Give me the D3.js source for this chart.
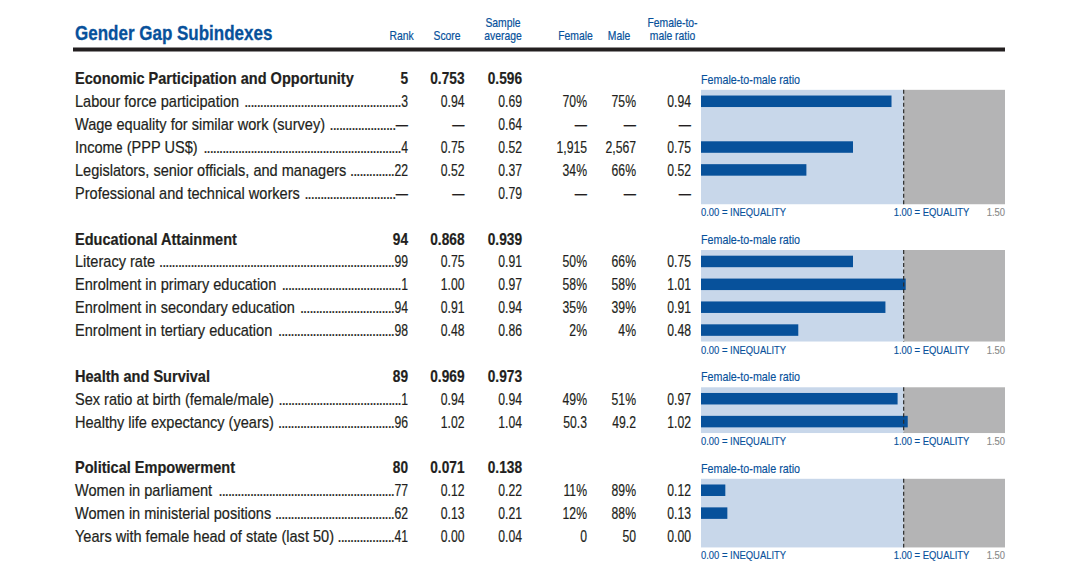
<!DOCTYPE html>
<html><head><meta charset="utf-8">
<script src="https://cdn.jsdelivr.net/npm/d3@7"></script>
<style>
body{margin:0;background:#fff}
svg{display:block}
text{font-family:'Liberation Sans',Arial,Helvetica,sans-serif}
</style>
</head><body><svg id="c" width="1090" height="575"></svg>
<script>
const chartTitle = "Gender Gap Subindexes";
const columnHeaders = [["Rank"],["Score"],["Sample","average"],["Female"],["Male"],["Female-to-","male ratio"]];
const sectionNames = ["Economic Participation and Opportunity","Educational Attainment","Health and Survival","Political Empowerment"];
const sectionRanks = [5,94,89,80];
const sectionScores = [0.753,0.868,0.969,0.071];
const sectionAverages = [0.596,0.939,0.973,0.138];
const indicatorSection = [0,0,0,0,0,1,1,1,1,2,2,3,3,3];
const indicatorLabels = ["Labour force participation","Wage equality for similar work (survey)","Income (PPP US$)","Legislators, senior officials, and managers","Professional and technical workers",
  "Literacy rate","Enrolment in primary education","Enrolment in secondary education","Enrolment in tertiary education",
  "Sex ratio at birth (female/male)","Healthy life expectancy (years)",
  "Women in parliament","Women in ministerial positions","Years with female head of state (last 50)"];
const indicatorRanks = [3,null,4,22,null,99,1,94,98,1,96,77,62,41];
const indicatorScores = [0.94,null,0.75,0.52,null,0.75,1.00,0.91,0.48,0.94,1.02,0.12,0.13,0.00];
const indicatorAverages = [0.69,0.64,0.52,0.37,0.79,0.91,0.97,0.94,0.86,0.94,1.04,0.22,0.21,0.04];
const femaleValues = [70,null,1915,34,null,50,58,35,2,49,50.3,11,12,0];
const maleValues = [75,null,2567,66,null,66,58,39,4,51,49.2,89,88,50];
const valueKinds = ["pct","pct","money","pct","pct","pct","pct","pct","pct","pct","years","pct","pct","count"];
const ratioValues = [0.94,null,0.75,0.52,null,0.75,1.01,0.91,0.48,0.97,1.02,0.12,0.13,0.00];
const panelLabel = "Female-to-male ratio";
const axisTicks = [0,1,1.5];
const axisTickLabels = ["0.00 = INEQUALITY","1.00 = EQUALITY","1.50"];

const BLUE = "#07519b", INK = "#231f20";
const svg = d3.select("#c");
const x = d3.scaleLinear().domain([0,1.5]).range([701,1005]);
const y = d3.scaleLinear().domain([0,20]).range([78.4,536]);
const rowH = y(1)-y(0);

const COL = {rank:408, score:464.5, avg:522, female:587, male:636, ratio:691};
const dash = "\u2014";
const f2 = d3.format(".2f"), f3 = d3.format(".3f"), fc = d3.format(",");
function fmtVal(v,k){ if(v==null) return dash; if(k==="pct") return v+"%"; if(k==="money") return fc(v); if(k==="years") return v.toFixed(1); return String(v); }

// condensed text helper: horizontal scale emulates a condensed face
function ctext(parent, px, py, str, o){
  o = o||{};
  const sx = o.sx||0.9;
  const g = parent.append("g").attr("transform",`translate(${px},${py}) scale(${sx},1)`);
  const t = g.append("text").attr("x",0).attr("y",0)
    .attr("font-size",o.size||15).attr("fill",o.fill||INK)
    .attr("text-anchor",o.anchor||"start").text(str);
  if(o.weight) t.attr("font-weight",o.weight);
  if(o.ls!=null) t.attr("letter-spacing",o.ls);
  if(o.sw) t.attr("stroke",o.fill||INK).attr("stroke-width",o.sw);
  return {t, width:()=>t.node().getComputedTextLength()*sx};
}

// header
ctext(svg,75,40,chartTitle,{size:21,sx:0.81,weight:"bold",fill:BLUE,sw:0.3});
const hdrX = [401.5,447,503,575.5,619,672.5];
columnHeaders.forEach((lines,i)=>{
  lines.forEach((t,j)=>{
    ctext(svg,hdrX[i],40-(lines.length-1-j)*13,t,{size:12.5,sx:0.83,anchor:"middle",fill:BLUE,sw:0.2});
  });
});
svg.append("rect").attr("x",73).attr("y",47.5).attr("width",1005-73).attr("height",4).attr("fill",INK);

// row assignment
let r=0; const sectionRow=[], itemRow=[];
sectionNames.forEach((s,si)=>{
  sectionRow[si]=r;
  const items = d3.range(indicatorSection.length).filter(i=>indicatorSection[i]===si);
  items.forEach((i,k)=>itemRow[i]=r+1+k);
  r += items.length+2;
});

const LFS = 16, LSX = 0.91, NFS = 16.5, NSX = 0.74, BSX = 0.83, SW = 0.2;
// section headers
sectionNames.forEach((s,si)=>{
  const by = y(sectionRow[si])+6;
  ctext(svg,75,by,s,{size:LFS,sx:LSX,weight:"bold",sw:SW});
  ctext(svg,COL.rank,by,sectionRanks[si],{size:NFS,sx:BSX,weight:"bold",anchor:"end",sw:SW});
  ctext(svg,COL.score,by,f3(sectionScores[si]),{size:NFS,sx:BSX,weight:"bold",anchor:"end",sw:SW});
  ctext(svg,COL.avg,by,f3(sectionAverages[si]),{size:NFS,sx:BSX,weight:"bold",anchor:"end",sw:SW});
});

// indicator rows
indicatorLabels.forEach((lab,i)=>{
  const by = y(itemRow[i])+6;
  const lt = ctext(svg,75,by,lab,{size:LFS,sx:LSX,sw:SW});
  const rt = ctext(svg,COL.rank,by,indicatorRanks[i]==null?dash:indicatorRanks[i],{size:NFS,sx:NSX,anchor:"end",sw:SW});
  const labEnd = 75 + lt.width();
  const rankStart = COL.rank - rt.width();
  const dt = ctext(svg,rankStart-0.5,by,".",{size:LFS,sx:LSX,anchor:"end",ls:-1,sw:SW});
  const pitch = dt.width();
  const n = Math.max(0, Math.floor((rankStart-0.5-labEnd-3)/pitch));
  dt.t.text(".".repeat(n));
  ctext(svg,COL.score,by,indicatorScores[i]==null?dash:f2(indicatorScores[i]),{size:NFS,sx:NSX,anchor:"end",sw:SW});
  ctext(svg,COL.avg,by,f2(indicatorAverages[i]),{size:NFS,sx:NSX,anchor:"end",sw:SW});
  ctext(svg,COL.female,by,fmtVal(femaleValues[i],valueKinds[i]),{size:NFS,sx:NSX,anchor:"end",sw:SW});
  ctext(svg,COL.male,by,fmtVal(maleValues[i],valueKinds[i]),{size:NFS,sx:NSX,anchor:"end",sw:SW});
  ctext(svg,COL.ratio,by,ratioValues[i]==null?dash:f2(ratioValues[i]),{size:NFS,sx:NSX,anchor:"end",sw:SW});
});

// panels
sectionNames.forEach((s,si)=>{
  const items = d3.range(indicatorSection.length).filter(i=>indicatorSection[i]===si);
  const top = y(itemRow[items[0]]) - rowH/2;
  const bot = y(itemRow[items[items.length-1]]) + rowH/2;
  const g = svg.append("g");
  ctext(g,x(0),top-6,panelLabel,{size:12.5,sx:0.86,fill:BLUE,sw:0.15});
  g.append("rect").attr("x",x(0)).attr("y",top).attr("width",x(1)-x(0)).attr("height",bot-top).attr("fill","#c8d7ea");
  g.append("rect").attr("x",x(1)).attr("y",top).attr("width",x(1.5)-x(1)).attr("height",bot-top).attr("fill","#b4b4b5");
  g.selectAll("rect.bar").data(items.filter(i=>ratioValues[i]!=null)).join("rect").attr("class","bar")
    .attr("x",x(0)).attr("y",i=>y(itemRow[i])-5.75).attr("height",11.5)
    .attr("width",i=>x(ratioValues[i])-x(0)).attr("fill",BLUE);
  g.append("line").attr("x1",x(1)).attr("x2",x(1)).attr("y1",top).attr("y2",bot)
    .attr("stroke","#2b2b2b").attr("stroke-width",1.2).attr("stroke-dasharray","4,2.5");
  axisTicks.forEach((t,k)=>{
    const px = k===0 ? x(t) : k===1 ? x(t)-10 : x(t);
    ctext(g,px,bot+12,axisTickLabels[k],{size:11.5,sx:0.82,fill:k===2?"#8a8a8a":BLUE,anchor:k===2?"end":"start",sw:0.15});
  });
});
</script>
</body></html>
